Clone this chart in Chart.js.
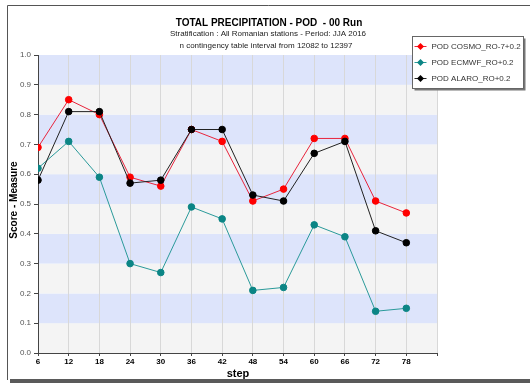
<!DOCTYPE html>
<html>
<head>
<meta charset="utf-8">
<script src="https://cdn.jsdelivr.net/npm/chart.js@4"></script>
<style>
  html, body { margin: 0; padding: 0; background: #fff; }
  #wrap { width: 530px; height: 383px; position: relative; }
</style>
</head>
<body>
<div id="wrap"><canvas id="podChart" width="530" height="383"></canvas></div>
<script>
'use strict';

var steps = [6, 12, 18, 24, 30, 36, 42, 48, 54, 60, 66, 72, 78];
var cosmo = [0.69, 0.85, 0.80, 0.59, 0.56, 0.75, 0.71, 0.51, 0.55, 0.72, 0.72, 0.51, 0.47];
var ecmwf = [0.62, 0.71, 0.59, 0.30, 0.27, 0.49, 0.45, 0.21, 0.22, 0.43, 0.39, 0.14, 0.15];
var alaro = [0.58, 0.81, 0.81, 0.57, 0.58, 0.75, 0.75, 0.53, 0.51, 0.67, 0.71, 0.41, 0.37];
var seriesLabels = ['POD COSMO_RO-7+0.2', 'POD ECMWF_RO+0.2', 'POD ALARO_RO+0.2'];
var titleText = 'TOTAL PRECIPITATION - POD  - 00 Run';
var subtitleLines = ['Stratification : All Romanian stations - Period: JJA 2016',
                     'n contingency table interval from 12082 to 12397'];

function toPoints(vals) {
    return steps.map(function (s, i) { return { x: s, y: vals[i] }; });
}

var bandsPlugin = {
    id: 'bands',
    beforeDraw: function (chart) {
        var ctx = chart.ctx, area = chart.chartArea, y = chart.scales.y;
        ctx.save();
        for (var i = 0; i < 10; i++) {
            var top = y.getPixelForValue((i + 1) / 10);
            var bot = y.getPixelForValue(i / 10);
            ctx.fillStyle = (i % 2 === 0) ? '#f4f4f4' : '#dde4fb';
            ctx.fillRect(area.left, top, area.right - area.left, bot - top);
        }
        ctx.restore();
    }
};

var decorPlugin = {
    id: 'decor',
    afterDraw: function (chart) {
        var ctx = chart.ctx;
        ctx.save();
        // outer frame
        ctx.strokeStyle = '#555';
        ctx.lineWidth = 1;
        ctx.beginPath();
        ctx.moveTo(7.5, 380);
        ctx.lineTo(7.5, 5.5);
        ctx.lineTo(530, 5.5);
        ctx.stroke();
        ctx.fillStyle = '#5a5a5a';
        ctx.fillRect(10, 379, 520, 4);

        // titles
        ctx.fillStyle = '#000';
        ctx.textAlign = 'center';
        ctx.textBaseline = 'alphabetic';
        ctx.font = 'bold 10px "Liberation Sans", Arial, sans-serif';
        ctx.fillText(titleText, 269, 26);
        ctx.fillStyle = '#222';
        ctx.font = '8px "Liberation Sans", Arial, sans-serif';
        ctx.fillText(subtitleLines[0], 268, 36);
        ctx.fillText(subtitleLines[1], 266, 48);

        // axis titles
        ctx.fillStyle = '#000';
        ctx.font = 'bold 11px "Liberation Sans", Arial, sans-serif';
        ctx.fillText('step', 238, 377);
        ctx.save();
        ctx.translate(17, 200);
        ctx.rotate(-Math.PI / 2);
        ctx.font = 'bold 10px "Liberation Sans", Arial, sans-serif';
        ctx.fillText('Score - Measure', 0, 0);
        ctx.restore();

        // legend box
        var lx = 412.5, ly = 36.5, lw = 111, lh = 52;
        ctx.fillStyle = '#777';
        ctx.fillRect(lx + 2, ly + 2, lw, lh);
        ctx.fillStyle = '#fff';
        ctx.fillRect(lx, ly, lw, lh);
        ctx.strokeStyle = '#666';
        ctx.strokeRect(lx, ly, lw, lh);
        ctx.textAlign = 'left';
        ctx.textBaseline = 'middle';
        ctx.font = '8px "Liberation Sans", Arial, sans-serif';
        chart.data.datasets.forEach(function (ds, i) {
            var yy = ly + 10 + i * 16;
            ctx.strokeStyle = ds.borderColor;
            ctx.beginPath();
            ctx.moveTo(lx + 2, yy);
            ctx.lineTo(lx + 14, yy);
            ctx.stroke();
            ctx.fillStyle = ds.pointBackgroundColor;
            ctx.beginPath();
            ctx.moveTo(lx + 8, yy - 3.5);
            ctx.lineTo(lx + 11.5, yy);
            ctx.lineTo(lx + 8, yy + 3.5);
            ctx.lineTo(lx + 4.5, yy);
            ctx.closePath();
            ctx.fill();
            ctx.fillStyle = '#333';
            ctx.fillText(ds.label, lx + 19, yy + 0.5);
        });
        ctx.restore();
    }
};

new Chart(document.getElementById('podChart'), {
    type: 'line',
    data: {
        datasets: [
            {
                label: seriesLabels[0],
                data: toPoints(cosmo),
                borderColor: '#e8243c',
                backgroundColor: '#ff0000',
                pointBackgroundColor: '#ff0000',
                pointBorderColor: '#ff0000',
                borderWidth: 1,
                pointRadius: 3.3,
                order: 3
            },
            {
                label: seriesLabels[1],
                data: toPoints(ecmwf),
                borderColor: '#2a9a9a',
                backgroundColor: '#0b8585',
                pointBackgroundColor: '#0b8585',
                pointBorderColor: '#0b8585',
                borderWidth: 1,
                pointRadius: 3.3,
                order: 2
            },
            {
                label: seriesLabels[2],
                data: toPoints(alaro),
                borderColor: '#222',
                backgroundColor: '#000',
                pointBackgroundColor: '#000',
                pointBorderColor: '#000',
                borderWidth: 1,
                pointRadius: 3.3,
                order: 1
            }
        ]
    },
    options: {
        responsive: false,
        animation: false,
        layout: { padding: { top: 55, right: 93, left: 0, bottom: 0 } },
        plugins: {
            legend: { display: false },
            tooltip: { enabled: false }
        },
        scales: {
            x: {
                type: 'linear',
                min: 6,
                max: 84,
                afterFit: function (s) { s.height = 30; },
                afterBuildTicks: function (s) {
                    var t = [];
                    for (var v = 6; v <= 84; v += 6) t.push({ value: v });
                    s.ticks = t;
                },
                ticks: {
                    autoSkip: false,
                    maxRotation: 0,
                    padding: 1,
                    color: '#000',
                    font: { family: '"Liberation Sans Narrow", "Liberation Sans", Arial', size: 8, weight: 'bold' },
                    callback: function (v) { return v === 84 ? '' : v; }
                },
                grid: { color: '#d8d8d8', tickLength: 3, tickColor: '#444' },
                border: { display: true, color: '#444' }
            },
            y: {
                min: 0,
                max: 1,
                afterFit: function (s) { s.width = 38; },
                ticks: {
                    stepSize: 0.1,
                    padding: 3,
                    color: '#555',
                    font: { family: '"Liberation Sans", Arial', size: 8 },
                    callback: function (v) { return v.toFixed(1); }
                },
                grid: { drawOnChartArea: false, tickLength: 4, tickColor: '#444' },
                border: { display: true, color: '#444' }
            }
        }
    },
    plugins: [bandsPlugin, decorPlugin]
});
</script>
</body>
</html>
